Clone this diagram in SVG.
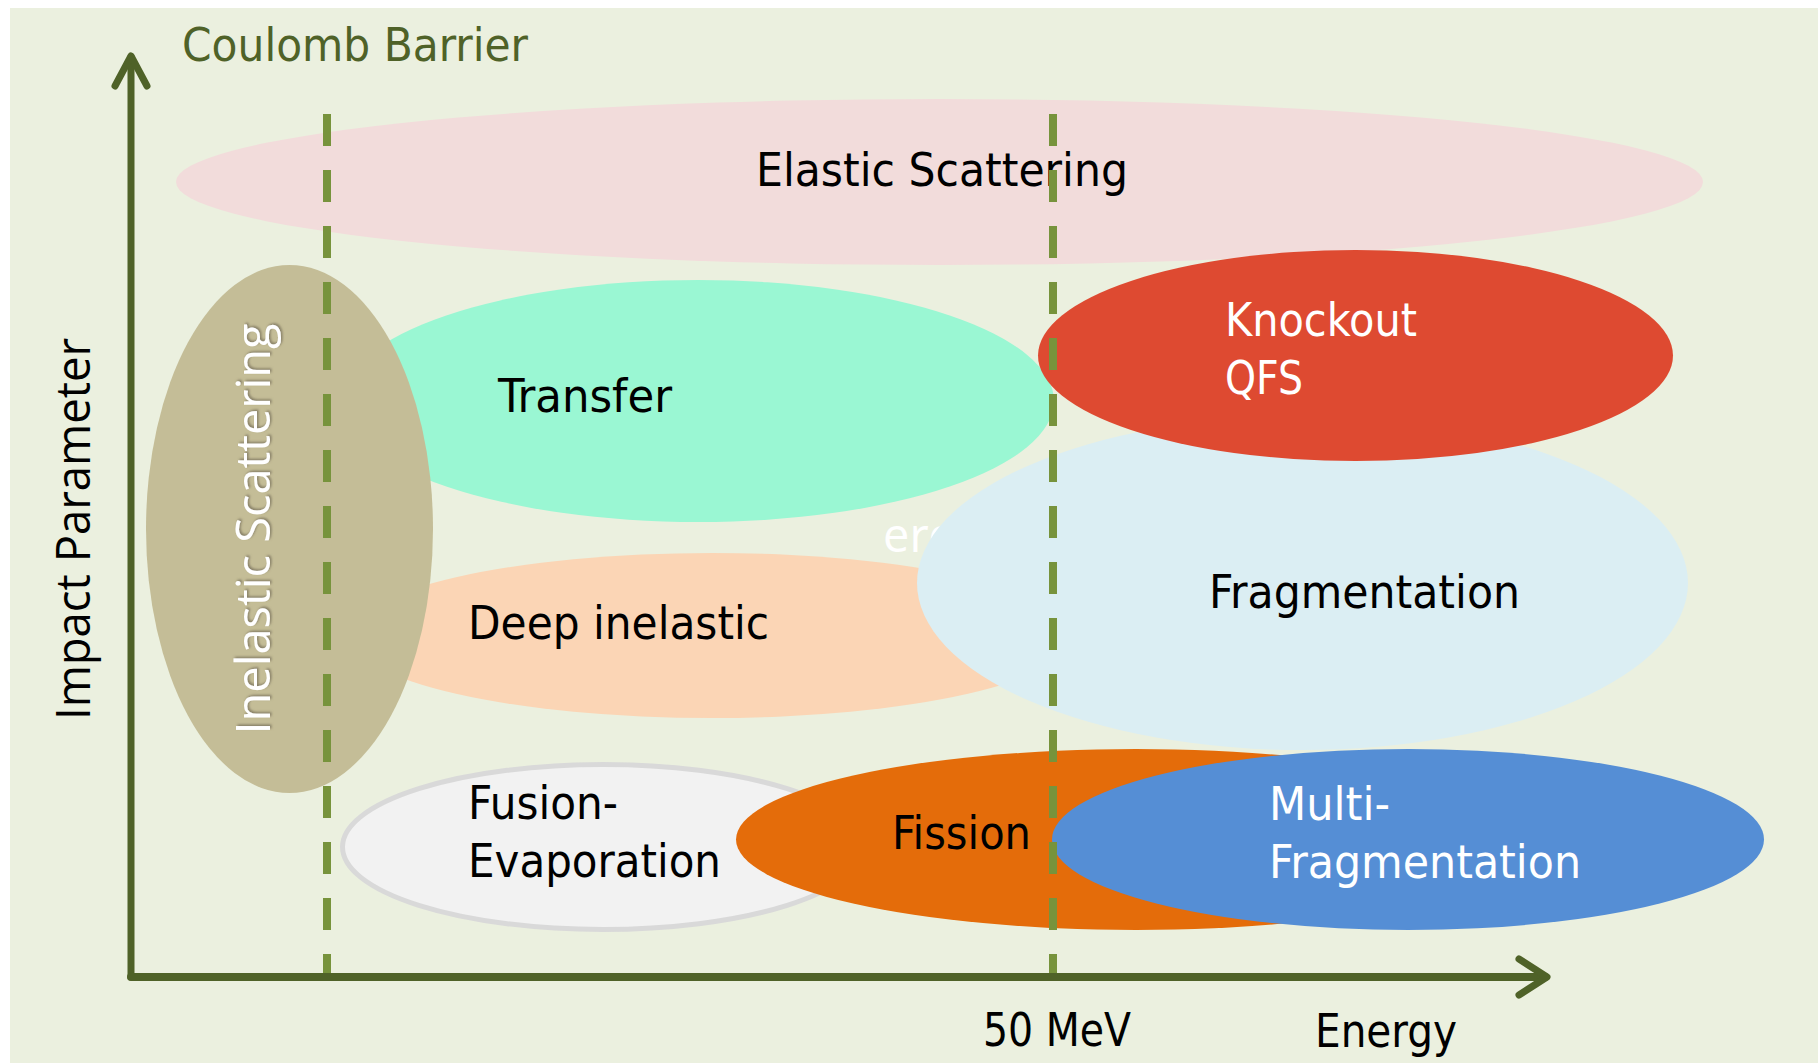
<svg xmlns="http://www.w3.org/2000/svg" width="1818" height="1063" viewBox="0 0 1818 1063">
  <style>
    .lbl { font-family: "DejaVu Sans Condensed", "DejaVu Sans", sans-serif; font-size: 47px; fill: #000; }
    .wht { fill: #fff; }
    .soft { font-family: "Open Sans", "Noto Sans", sans-serif; }
    .axis { stroke: #4F6228; fill: none; stroke-linecap: round; stroke-linejoin: round; }
    .guide { stroke: #77933C; stroke-width: 8; stroke-dasharray: 32 24; fill: none; }
  </style>
  <defs>
    <filter id="shadow" x="-10%" y="-10%" width="120%" height="120%">
      <feDropShadow dx="1.5" dy="1.5" stdDeviation="0.8" flood-color="#6b6450" flood-opacity="0.7"/>
    </filter>
  </defs>

  <!-- canvas -->
  <rect x="10" y="8" width="1808" height="1055" fill="#EBF0DF"/>

  <!-- axis titles -->
  <text class="lbl" x="182" y="61" textLength="346" lengthAdjust="spacingAndGlyphs" style="fill:#4F6228">Coulomb Barrier</text>
  <text class="lbl soft" transform="translate(90,529) rotate(-90)" text-anchor="middle" font-size="49" textLength="382" lengthAdjust="spacingAndGlyphs">Impact Parameter</text>
  <text class="lbl" x="983" y="1046" textLength="148" lengthAdjust="spacingAndGlyphs">50 MeV</text>
  <text class="lbl" x="1315" y="1047" textLength="142" lengthAdjust="spacingAndGlyphs">Energy</text>

  <!-- reaction regions -->
  <g id="elastic">
    <ellipse cx="939.5" cy="182" rx="763.5" ry="83" fill="#F2DCDB"/>
    <text class="lbl" x="756" y="186" textLength="372" lengthAdjust="spacingAndGlyphs">Elastic Scattering</text>
  </g>

  <g id="transfer">
    <ellipse cx="698" cy="401" rx="356" ry="121" fill="#9AF7D3"/>
    <text class="lbl" x="498" y="412" textLength="174" lengthAdjust="spacingAndGlyphs">Transfer</text>
  </g>

  <g id="deep-inelastic">
    <ellipse cx="712" cy="635.5" rx="362" ry="82.5" fill="#FBD5B5"/>
    <text class="lbl" x="468" y="639" textLength="301" lengthAdjust="spacingAndGlyphs">Deep inelastic</text>
  </g>

  <g id="inelastic">
    <ellipse cx="289.5" cy="529" rx="143.5" ry="264" fill="#C4BD97"/>
    <text class="lbl soft wht" transform="translate(270,529) rotate(-90)" text-anchor="middle" font-size="49" textLength="411" lengthAdjust="spacingAndGlyphs" filter="url(#shadow)">Inelastic Scattering</text>
  </g>

  <text class="lbl soft wht" x="883" y="552" font-size="44">ero</text>

  <g id="fragmentation">
    <ellipse cx="1302.5" cy="583" rx="385.5" ry="167" fill="#DBEEF3"/>
    <text class="lbl" x="1209" y="608" textLength="311" lengthAdjust="spacingAndGlyphs">Fragmentation</text>
  </g>

  <g id="knockout">
    <ellipse cx="1355.5" cy="355.5" rx="317.5" ry="105.5" fill="#DE4A31"/>
    <text class="lbl wht" x="1225" y="336" textLength="192" lengthAdjust="spacingAndGlyphs">Knockout</text>
    <text class="lbl wht" x="1225" y="394" textLength="78" lengthAdjust="spacingAndGlyphs">QFS</text>
  </g>

  <g id="fusion-evaporation">
    <ellipse cx="603" cy="847" rx="260.5" ry="82.5" fill="#F2F2F2" stroke="#D9D9D9" stroke-width="5"/>
    <text class="lbl" x="468" y="819" textLength="150" lengthAdjust="spacingAndGlyphs">Fusion-</text>
    <text class="lbl" x="468" y="877" textLength="253" lengthAdjust="spacingAndGlyphs">Evaporation</text>
  </g>

  <g id="fission">
    <ellipse cx="1136" cy="839.5" rx="400" ry="90.5" fill="#E46C0A"/>
    <text class="lbl" x="892" y="849" textLength="139" lengthAdjust="spacingAndGlyphs">Fission</text>
  </g>

  <g id="multi-fragmentation">
    <ellipse cx="1408" cy="839.5" rx="356" ry="90.5" fill="#558ED5"/>
    <text class="lbl wht" x="1269" y="820" textLength="121" lengthAdjust="spacingAndGlyphs">Multi-</text>
    <text class="lbl wht" x="1269" y="878" textLength="312" lengthAdjust="spacingAndGlyphs">Fragmentation</text>
  </g>

  <!-- threshold guides and axes -->
  <g id="connectors">
    <line class="guide" x1="327" y1="114" x2="327" y2="975"/>
    <line class="guide" x1="1053" y1="114" x2="1053" y2="975"/>
    <line class="axis" x1="131" y1="977" x2="131" y2="57" stroke-width="7" stroke-linecap="butt"/>
    <polyline class="axis" points="115,86 131,56 147,86" stroke-width="7"/>
    <line class="axis" x1="131" y1="977" x2="1545" y2="977" stroke-width="8" stroke-linecap="butt"/>
    <polyline class="axis" points="1519,959 1547,977 1519,995" stroke-width="7"/>
  </g>
</svg>
